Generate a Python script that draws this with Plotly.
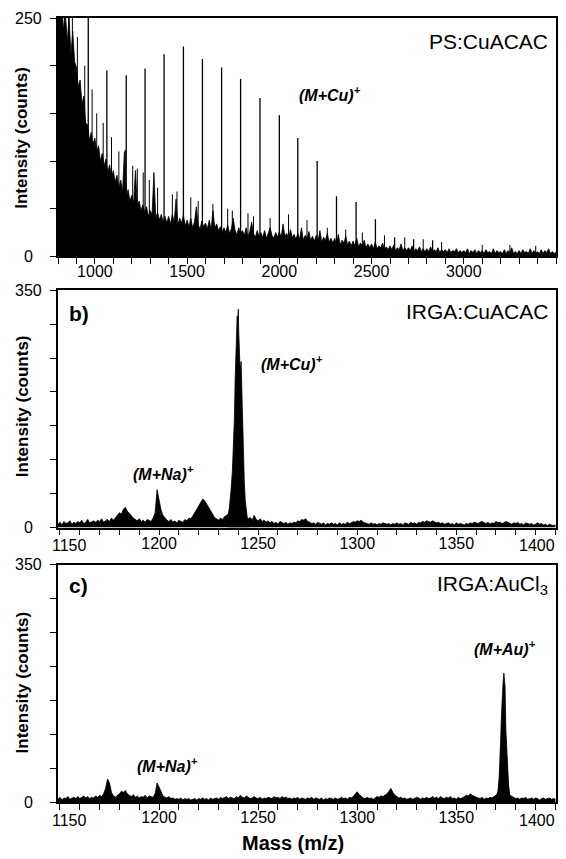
import plotly.graph_objects as go

# ---------------- Panel a: PS:CuACAC ----------------
a_start, a_step = 800, 10
a_noise = [
    262, 248, 265, 238, 255, 226, 250, 212, 236, 204,
    198, 178, 185, 160, 168, 140, 138, 122, 130, 118,
    124, 110, 116, 100, 108, 95, 102, 88, 96, 84,
    90, 78, 85, 72, 80, 68, 110, 62, 70, 58,
    64, 56, 90, 52, 58, 48, 54, 46, 52, 42,
    48, 44, 88, 40, 46, 38, 44, 36, 42, 35,
    42, 34, 44, 36, 60, 33, 40, 35, 43, 32,
    38, 31, 40, 30, 36, 52, 33, 29, 37, 31,
    35, 29, 38, 28, 48, 30, 34, 27, 31, 26,
    30, 25, 33, 24, 29, 40, 27, 23, 30, 24,
    27, 22, 30, 21, 26, 36, 24, 20, 27, 21,
    25, 20, 27, 19, 24, 30, 22, 19, 25, 20,
    26, 20, 34, 21, 24, 19, 28, 20, 23, 18,
    24, 18, 30, 17, 22, 19, 26, 17, 21, 16,
    22, 16, 27, 15, 20, 17, 24, 15, 19, 14,
    19, 13, 23, 12, 17, 14, 21, 12, 16, 11,
    16, 11, 19, 10, 14, 11, 17, 9, 13, 9,
    13, 8, 15, 8, 11, 9, 14, 7, 10, 7,
    11, 7, 12, 6, 9, 7, 13, 6, 9, 6,
    9, 6, 11, 5, 8, 6, 10, 5, 8, 5,
    8, 5, 10, 5, 7, 5, 9, 4, 7, 5,
    7, 4, 8, 4, 6, 5, 8, 4, 6, 4,
    6, 4, 8, 3, 6, 4, 7, 3, 6, 4,
    6, 3, 7, 4, 5, 3, 8, 3, 6, 4,
    5, 3, 7, 3, 6, 4, 9, 3, 5, 3,
    6, 3, 7, 4, 5, 3, 8, 3, 6, 3,
    5, 3, 7, 3, 6, 4, 8, 3, 5, 3, 4,
]
a_spike_mass = [835, 858, 878, 905, 945, 985, 1010, 1045, 1090, 1130, 1165, 1205, 1230,
                1262, 1295, 1340, 1420, 1445, 1520, 1560, 1640, 1720, 1745, 1830, 1860,
                1950, 2050, 2150, 2260, 2360, 2450, 2570, 2680, 2780, 2880, 3100, 3250, 3390]
a_spike_int = [270, 265, 255, 230, 200, 175, 150, 140, 125, 110, 112, 95, 92,
               88, 80, 72, 65, 68, 62, 58, 55, 50, 48, 45, 42,
               40, 44, 38, 30, 28, 25, 22, 20, 18, 15, 12, 12, 11]
ps_peak_mass = [964, 1065, 1170, 1272, 1375, 1480, 1583, 1687, 1790, 1895, 2000,
                2100, 2205, 2310, 2416, 2521, 2625, 2728, 2831]
ps_peak_int = [260, 195, 190, 197, 212, 220, 207, 198, 186, 166, 148,
               124, 100, 63, 57, 39, 20, 18, 17]

# ---------------- Panel b: IRGA:CuACAC ----------------
bc_start = 1149
b_noise = [
    5, 8, 4, 9, 6, 7, 10, 5, 8, 6,
    9, 7, 11, 6, 8, 12, 7, 9, 10, 8,
    11, 9, 13, 8, 10, 12, 9, 14, 11, 15,
    18, 22, 20, 27, 30, 24, 21, 17, 14, 12,
    10, 13, 9, 11, 8, 12, 10, 9, 14, 22,
    56, 38, 26, 18, 14, 11, 9, 12, 8, 10,
    7, 11, 9, 8, 12, 10, 14, 13, 17, 22,
    26, 32, 36, 42, 40, 35, 30, 24, 18, 15,
    13, 11, 14, 12, 16, 18, 20, 28, 36, 40,
    40, 40, 36, 30, 22, 16, 13, 15, 11, 18,
    12, 10, 13, 9, 11, 8, 10, 7, 9, 6,
    8, 5, 9, 7, 6, 8, 5, 7, 6, 8,
    7, 10, 9, 12, 11, 13, 9, 8, 6, 7,
    5, 8, 6, 5, 7, 4, 6, 5, 7, 5,
    6, 4, 7, 5, 6, 5, 8, 6, 7, 9,
    8, 10, 9, 11, 8, 7, 6, 5, 7, 5,
    6, 4, 6, 5, 7, 6, 5, 6, 4, 6,
    5, 7, 5, 6, 4, 7, 6, 5, 8, 6,
    7, 5, 8, 7, 9, 8, 10, 9, 8, 10,
    9, 7, 8, 6, 7, 5, 6, 7, 5, 6,
    4, 7, 5, 6, 5, 4, 6, 5, 7, 6,
    8, 7, 6, 8, 9, 7, 6, 8, 5, 7,
    6, 9, 7, 8, 6, 7, 9, 8, 6, 5,
    7, 6, 8, 5, 6, 4, 7, 6, 5, 6,
    4, 5, 7, 5, 6, 4, 5, 3, 5, 4,
    3, 4,
]
b_peak_mass = [1234.5, 1235.5, 1236.3, 1237.0, 1237.6, 1238.0, 1238.4, 1238.8, 1239.1,
               1239.4, 1239.7, 1240.0, 1240.2, 1240.5, 1240.8, 1241.1, 1241.4, 1241.8,
               1242.2, 1242.6, 1243.0, 1243.5, 1244.0, 1244.6, 1245.3]
b_peak_int = [12, 30, 55, 84, 130, 160, 220, 275, 300, 312, 305, 322, 290, 250, 240,
              236, 245, 200, 140, 100, 69, 40, 25, 12, 8]

# ---------------- Panel c: IRGA:AuCl3 ----------------
c_noise = [
    4, 7, 3, 6, 5, 8, 4, 6, 7, 5,
    8, 5, 7, 9, 6, 8, 5, 7, 6, 9,
    7, 10, 8, 12, 20, 34, 28, 14, 9, 7,
    10, 12, 16, 14, 17, 12, 10, 8, 11, 7,
    9, 6, 8, 7, 10, 6, 9, 8, 7, 12,
    28, 22, 14, 9, 7, 6, 8, 5, 6, 4,
    5, 4, 6, 3, 5, 4, 5, 3, 4, 5,
    3, 5, 4, 6, 4, 5, 3, 6, 4, 5,
    6, 4, 7, 5, 6, 8, 5, 7, 6, 5,
    8, 6, 10, 7, 6, 9, 7, 5, 6, 8,
    6, 5, 7, 4, 6, 5, 7, 6, 5, 8,
    6, 7, 5, 8, 6, 7, 5, 6, 4, 6,
    5, 7, 4, 6, 5, 4, 6, 5, 7, 4,
    6, 5, 4, 6, 3, 5, 4, 6, 5, 4,
    6, 4, 5, 7, 5, 6, 4, 7, 6, 8,
    12, 15, 11, 8, 6, 5, 7, 5, 6, 4,
    6, 8, 7, 9, 8, 10, 12, 16, 20, 14,
    10, 8, 6, 7, 5, 6, 4, 5, 6, 4,
    5, 7, 6, 4, 6, 5, 7, 5, 6, 8,
    6, 7, 5, 8, 6, 5, 7, 6, 8, 5,
    6, 4, 7, 5, 6, 8, 10, 9, 12, 10,
    8, 7, 6, 5, 7, 4, 6, 5, 7, 6,
    8, 10, 14, 40, 90, 130, 90, 30, 10, 8,
    7, 5, 6, 4, 6, 5, 7, 4, 5, 6,
    4, 6, 5, 3, 5, 6, 4, 5, 6, 4,
    5, 4,
]
c_peak_mass = [1370.5, 1371.1, 1371.6, 1372.0, 1372.4, 1372.8, 1373.2, 1373.6, 1374.0,
               1374.3, 1374.6, 1375.0, 1375.4, 1375.8, 1376.2, 1376.6, 1377.0, 1377.5]
c_peak_int = [8, 17, 35, 56, 95, 130, 160, 177, 190, 182, 170, 106, 75, 47, 25, 12, 8, 5]

# tick labels
a_xticks = list(range(800, 3501, 100))
a_xlabels = [str(v) if v % 500 == 0 and v >= 1000 else "" for v in a_xticks]
a_yticks = [0, 50, 100, 150, 200, 250]
a_ylabels = ["0", "", "", "", "", "250"]
bc_xticks = list(range(1150, 1401, 10))
bc_xlabels = [str(v) if v % 50 == 0 else "" for v in bc_xticks]
bc_yticks = [0, 50, 100, 150, 200, 250, 300, 350]
bc_ylabels = ["0", "", "", "", "", "", "", "350"]

FONT = "Liberation Sans, Arial, Helvetica, sans-serif"
BLACK = "black"
TICKSIZE = 16


def sticks(masses, ints):
    xs, ys = [], []
    for m, h in zip(masses, ints):
        xs += [m, m, None]
        ys += [0, h, None]
    return xs, ys


fig = go.Figure()

# panel a
a_x = [a_start + i * a_step for i in range(len(a_noise))]
fig.add_trace(go.Scatter(x=a_x, y=a_noise, mode="lines", fill="tozeroy",
                         line=dict(color=BLACK, width=0.8), fillcolor=BLACK,
                         xaxis="x", yaxis="y", hoverinfo="skip"))
sx, sy = sticks(a_spike_mass, a_spike_int)
fig.add_trace(go.Scatter(x=sx, y=sy, mode="lines", line=dict(color=BLACK, width=1),
                         xaxis="x", yaxis="y", hoverinfo="skip"))
px_, py_ = sticks(ps_peak_mass, ps_peak_int)
fig.add_trace(go.Scatter(x=px_, y=py_, mode="lines", line=dict(color=BLACK, width=1.3),
                         xaxis="x", yaxis="y", hoverinfo="skip"))

# panel b
bc_x = [bc_start + i for i in range(len(b_noise))]
fig.add_trace(go.Scatter(x=bc_x, y=b_noise, mode="lines", fill="tozeroy",
                         line=dict(color=BLACK, width=0.8), fillcolor=BLACK,
                         xaxis="x2", yaxis="y2", hoverinfo="skip"))
fig.add_trace(go.Scatter(x=b_peak_mass, y=b_peak_int, mode="lines", fill="tozeroy",
                         line=dict(color=BLACK, width=0.8), fillcolor=BLACK,
                         xaxis="x2", yaxis="y2", hoverinfo="skip"))

# panel c
c_x = [bc_start + i for i in range(len(c_noise))]
fig.add_trace(go.Scatter(x=c_x, y=c_noise, mode="lines", fill="tozeroy",
                         line=dict(color=BLACK, width=0.8), fillcolor=BLACK,
                         xaxis="x3", yaxis="y3", hoverinfo="skip"))
fig.add_trace(go.Scatter(x=c_peak_mass, y=c_peak_int, mode="lines", fill="tozeroy",
                         line=dict(color=BLACK, width=0.8), fillcolor=BLACK,
                         xaxis="x3", yaxis="y3", hoverinfo="skip"))

axis_common = dict(showline=True, linecolor=BLACK, linewidth=1.5, mirror=True,
                   ticks="outside", ticklen=6, tickwidth=1.2, tickcolor=BLACK,
                   showgrid=False, zeroline=False,
                   tickfont=dict(family=FONT, size=TICKSIZE, color=BLACK))
xcommon = dict(axis_common, ticklabelstandoff=-6)
ycommon = dict(axis_common, showticklabels=False)

bc_xlabels_axis = [t if t not in ("1150", "1400") else "" for t in bc_xlabels]

# The page body has an 8 px margin, so the figure is 8 px smaller and margins shifted.
fig.update_layout(
    width=558, height=851,
    margin=dict(l=50, r=10, t=8, b=57),
    paper_bgcolor="white", plot_bgcolor="white",
    showlegend=False,
    xaxis=dict(domain=[0, 1], anchor="y", range=[800, 3500], tickmode="array",
               tickvals=a_xticks, ticktext=a_xlabels, **xcommon),
    yaxis=dict(domain=[0.696, 1.0], anchor="x", range=[0, 250], tickmode="array",
               tickvals=a_yticks, **ycommon),
    xaxis2=dict(domain=[0, 1], anchor="y2", range=[1149, 1400.3], tickmode="array",
                tickvals=bc_xticks, ticktext=bc_xlabels_axis, **xcommon),
    yaxis2=dict(domain=[0.35, 0.6527], anchor="x2", range=[0, 350], tickmode="array",
                tickvals=bc_yticks, **ycommon),
    xaxis3=dict(domain=[0, 1], anchor="y3", range=[1149, 1400.3], tickmode="array",
                tickvals=bc_xticks, ticktext=bc_xlabels_axis, **xcommon),
    yaxis3=dict(domain=[0.0, 0.3028], anchor="x3", range=[0, 350], tickmode="array",
                tickvals=bc_yticks, **ycommon),
)

ann = []


def add(text, xref, yref, x, y, size, xanchor="center", yanchor="middle", bold=False,
        italic=False, angle=0, xshift=0, yshift=0):
    t = text
    if bold:
        t = "<b>" + t + "</b>"
    if italic:
        t = "<i>" + t + "</i>"
    ann.append(dict(text=t, xref=xref, yref=yref, x=x, y=y, showarrow=False,
                    xanchor=xanchor, yanchor=yanchor, textangle=angle,
                    xshift=xshift, yshift=yshift,
                    font=dict(family=FONT, size=size, color=BLACK)))


# y tick labels (centred, as in the original figure)
for yname, xname, vals, labels in (("y", "x", a_yticks, a_ylabels),
                                   ("y2", "x2", bc_yticks, bc_ylabels),
                                   ("y3", "x3", bc_yticks, bc_ylabels)):
    for v, lab in zip(vals, labels):
        if lab:
            add(lab, xname + " domain", yname, 0, v, TICKSIZE, xshift=-30)

# edge x tick labels of panels b and c, pulled inside the frame
for yname, xname in (("y2", "x2"), ("y3", "x3")):
    add("1150", xname, yname + " domain", 1150, 0, TICKSIZE, xshift=10, yshift=-18)
    add("1400", xname, yname + " domain", 1400, 0, TICKSIZE, xanchor="right", xshift=2, yshift=-18)

# panel a texts
add("PS:CuACAC", "x domain", "y domain", 0.988, 0.90, 21, xanchor="right")
add("(M+Cu)<sup>+</sup>", "x domain", "y domain", 0.547, 0.682, 16, bold=True, italic=True)
add("a)", "x domain", "y domain", 0.018, 0.092, 21, xanchor="left", bold=True)
# panel b texts
add("IRGA:CuACAC", "x2 domain", "y2 domain", 0.988, 0.912, 21, xanchor="right")
add("b)", "x2 domain", "y2 domain", 0.018, 0.903, 21, xanchor="left", bold=True)
add("(M+Cu)<sup>+</sup>", "x2 domain", "y2 domain", 0.47, 0.695, 16, bold=True, italic=True)
add("(M+Na)<sup>+</sup>", "x2 domain", "y2 domain", 0.212, 0.232, 16, bold=True, italic=True)
# panel c texts
add("IRGA:AuCl<sub>3</sub>", "x3 domain", "y3 domain", 0.988, 0.915, 21, xanchor="right")
add("c)", "x3 domain", "y3 domain", 0.018, 0.912, 21, xanchor="left", bold=True)
add("(M+Au)<sup>+</sup>", "x3 domain", "y3 domain", 0.898, 0.647, 16, bold=True, italic=True)
add("(M+Na)<sup>+</sup>", "x3 domain", "y3 domain", 0.219, 0.155, 16, bold=True, italic=True)
# axis titles
add("Intensity (counts)", "paper", "paper", -0.072, (802 - 136) / 786, 17, bold=True, angle=-90)
add("Intensity (counts)", "paper", "paper", -0.072, (802 - 405) / 786, 17, bold=True, angle=-90)
add("Intensity (counts)", "paper", "paper", -0.072, (802 - 682) / 786, 17, bold=True, angle=-90)
add("Mass (m/z)", "paper", "paper", 0.472, (802 - 843) / 786, 20, bold=True)

fig.update_layout(annotations=ann)
fig.write_html("out.html")
